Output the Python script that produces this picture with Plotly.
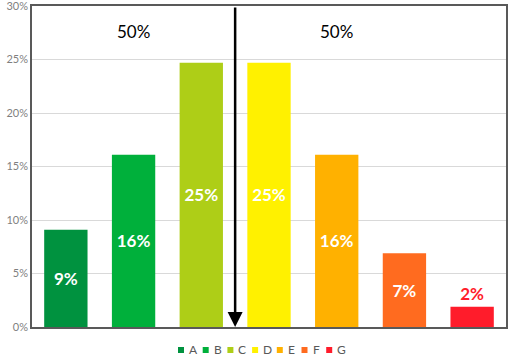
import plotly.graph_objects as go

categories = ["A", "B", "C", "D", "E", "F", "G"]
values = [0.091, 0.161, 0.247, 0.247, 0.161, 0.069, 0.019]
labels = ["9%", "16%", "25%", "25%", "16%", "7%", "2%"]
colors = ["#00923F", "#00B03B", "#AECE17", "#FFF100", "#FFB100", "#FF6B1F", "#FF1C2B"]
side_labels = ["50%", "50%"]
side_label_pos = ["B", "E"]
ytick_vals = [0, 0.05, 0.10, 0.15, 0.20, 0.25, 0.30]
ytick_text = ["0%", "5%", "10%", "15%", "20%", "25%", "30%"]

FONT = "Lato, 'Open Sans', sans-serif"
W, H = 512, 356
ML, MR, MT, MB = 32, 6, 6, 29
PW, PH = W - ML - MR, H - MT - MB

fig = go.Figure()
for i, cat in enumerate(categories):
    outside = (cat == "G")
    fig.add_trace(go.Bar(
        x=[cat], y=[values[i]], name=cat, showlegend=False,
        marker=dict(color=colors[i], line=dict(width=0)),
        text=["<b>%s</b>" % labels[i]],
        textposition="outside" if outside else "inside",
        insidetextanchor="middle",
        textfont=dict(family=FONT, size=17, color=colors[i] if outside else "white"),
        cliponaxis=False,
        hoverinfo="skip",
    ))

for lab, pos in zip(side_labels, side_label_pos):
    fig.add_annotation(x=pos, y=0.276, text=lab, showarrow=False,
                       font=dict(family=FONT, size=17, color="black"))

# vertical arrow between C and D
fig.add_annotation(x=2.5, y=0.0, ax=2.5, ay=0.3, xref="x", yref="y",
                   axref="x", ayref="y", text="", showarrow=True,
                   arrowhead=2, arrowsize=1.2, arrowwidth=2.5, arrowcolor="black")

# compact legend (square swatch + label) below the plot
leg_left_px, leg_step_px, leg_y_px, sq = 178, 24.7, 350, 6
for i, cat in enumerate(categories):
    x0 = leg_left_px + i * leg_step_px
    fig.add_shape(type="rect", xref="paper", yref="paper",
                  x0=(x0 - ML) / PW, x1=(x0 + sq - ML) / PW,
                  y0=(H - MB - (leg_y_px + sq / 2)) / PH,
                  y1=(H - MB - (leg_y_px - sq / 2)) / PH,
                  fillcolor=colors[i], line=dict(width=0))
    fig.add_annotation(xref="paper", yref="paper",
                       x=(x0 + sq + 3 - ML) / PW, y=(H - MB - leg_y_px) / PH,
                       xanchor="left", yanchor="middle", text=cat, showarrow=False,
                       font=dict(family=FONT, size=12, color="#595959"))

fig.update_layout(
    width=W, height=H,
    margin=dict(l=ML, r=MR, t=MT, b=MB, autoexpand=False),
    paper_bgcolor="white", plot_bgcolor="white",
    barmode="overlay", bargap=0.36,
    font=dict(family=FONT, color="#595959", size=11),
    showlegend=False,
)
fig.update_xaxes(showticklabels=False, ticks="", showline=True, mirror=True,
                 linecolor="#595959", linewidth=1.5, showgrid=False, automargin=False,
                 categoryorder="array", categoryarray=categories)
fig.update_yaxes(range=[0, 0.30], tickvals=ytick_vals, ticktext=ytick_text,
                 showline=True, automargin=False, ticklabeloverflow="allow",
                 mirror=True, linecolor="#595959", linewidth=1.5,
                 gridcolor="#D9D9D9", gridwidth=1, ticks="", zeroline=False,
                 tickfont=dict(family=FONT, size=11, color="#7F7F7F"))

fig.write_html("out.html", config={"displayModeBar": False},
               post_script="document.body.style.margin='0';")
